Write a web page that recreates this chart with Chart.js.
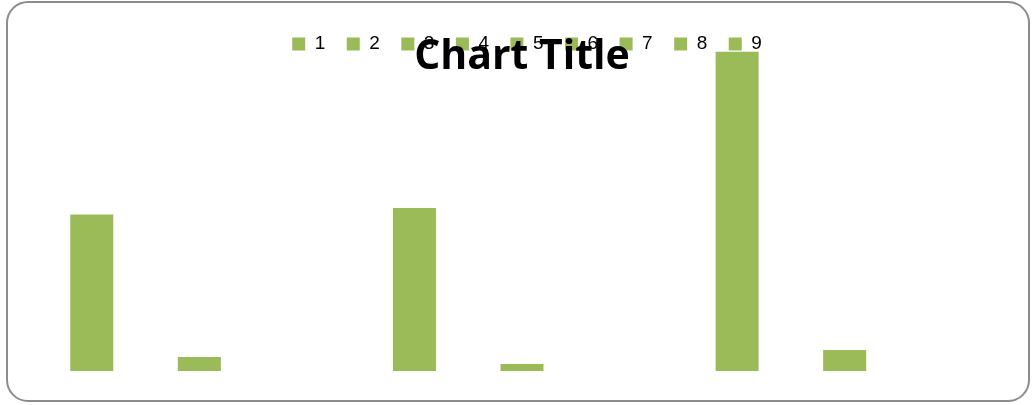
<!DOCTYPE html>
<html>
<head>
<meta charset="utf-8">
<script src="https://cdn.jsdelivr.net/npm/chart.js@4"></script>
<style>
    html, body { margin: 0; padding: 0; background: #fff; }
    .frame {
        position: absolute;
        left: 6px;
        top: 1px;
        width: 1020px;
        height: 397px;
        border: 2px solid #8c8c8c;
        border-radius: 22px;
    }
    .wrap { position: absolute; left: 0; top: 0; width: 1032px; height: 405px; }
</style>
</head>
<body>
<div class="frame"></div>
<div class="wrap"><canvas id="chart" width="1032" height="405"></canvas></div>
<script>
const categories = ['1', '2', '3', '4', '5', '6', '7', '8', '9'];
const values = [49, 4.4, 0, 51, 2.2, 0, 100, 6.6, 0];
const chartTitle = 'Chart Title';
const barColor = '#9bbb59';

// title sits on top of the legend row, so it is painted last
const overlayTitle = {
    id: 'overlayTitle',
    afterDraw(chart) {
        const ctx = chart.ctx;
        ctx.save();
        ctx.font = 'bold 41px "Open Sans"';
        ctx.fillStyle = '#000';
        ctx.textAlign = 'center';
        ctx.textBaseline = 'alphabetic';
        ctx.fillText(chartTitle, 522, 69);
        ctx.restore();
    }
};

// let the plot grow up under the legend row a bit, nudge the row right
const tightLegend = {
    id: 'tightLegend',
    beforeInit(chart) {
        const fit = chart.legend.fit;
        chart.legend.fit = function () {
            fit.call(this);
            this.height -= 12;
        };
    },
    afterLayout(chart) {
        chart.legend.left += 5;
        chart.legend.right += 5;
    }
};

const ctx = document.getElementById('chart').getContext('2d');
const chart = new Chart(ctx, {
    type: 'bar',
    data: {
        labels: categories,
        datasets: [{
            data: values,
            backgroundColor: barColor,
            categoryPercentage: 1,
            barPercentage: 0.4
        }]
    },
    options: {
        responsive: false,
        animation: false,
        layout: {
            padding: { left: 38, right: 26, top: 13, bottom: 34 }
        },
        scales: {
            x: { display: false },
            y: { display: false, min: 0, max: 100 }
        },
        plugins: {
            title: { display: false },
            tooltip: { enabled: false },
            legend: {
                position: 'top',
                labels: {
                    boxWidth: 13,
                    boxHeight: 13,
                    padding: 21.5,
                    color: '#000',
                    font: { family: 'Liberation Sans', size: 19 },
                    generateLabels: chart => categories.map((c, i) => ({
                        text: c,
                        fillStyle: barColor,
                        strokeStyle: barColor,
                        lineWidth: 0,
                        hidden: false,
                        index: i
                    }))
                }
            }
        }
    },
    plugins: [overlayTitle, tightLegend]
});
</script>
</body>
</html>
